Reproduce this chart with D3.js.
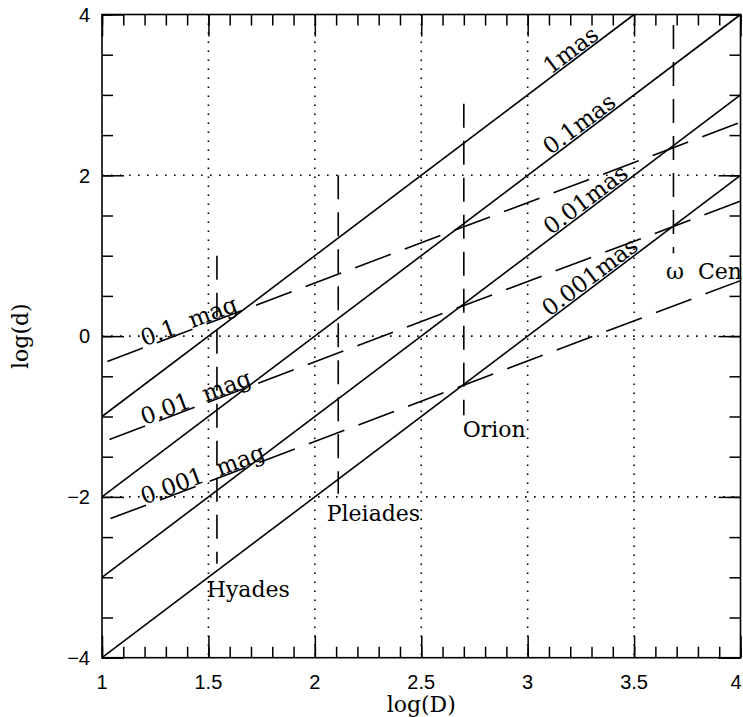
<!DOCTYPE html>
<html><head><meta charset="utf-8">
<script src="https://cdn.jsdelivr.net/npm/d3@7"></script>
<style>body{margin:0;background:#fff}</style>
</head><body><svg id="c" width="743" height="717"></svg>
<script>
const xDomain=[1,4], yDomain=[-4,4];
const xMajorTicks=[1,1.5,2,2.5,3,3.5,4];
const xTickLabels=["1","1.5","2","2.5","3","3.5","4"];
const yMajorTicks=[-4,-2,0,2,4];
const yTickLabels=["\u22124","\u22122","0","2","4"];
const xGrid=[1.5,2,2.5,3,3.5];
const yGrid=[-2,0,2];
const parallaxNames=["1mas","0.1mas","0.01mas","0.001mas"];
const parallaxOffset=[-3,-4,-5,-6];
const parallaxSlope=2;
const parallaxLabelX=[3.23,3.27,3.30,3.32];
const magNames=["0.1  mag","0.01  mag","0.001  mag"];
const magOffset=[-1.34,-2.32,-3.31];
const magSlope=1;
const magStartX=[1.025,1.035,1.04];
const magLabelX=[1.20,1.20,1.20];
const clusterNames=["Hyades","Pleiades","Orion","\u03c9  Cen"];
const clusterX=[1.54,2.11,2.70,3.685];
const clusterTop=[1.0,2.0,2.89,3.87];
const clusterBottom=[-2.83,-1.96,-0.985,1.03];
const clusterLabelX=[1.492,2.056,2.695,3.65];
const clusterLabelY=[-3.24,-2.30,-1.255,0.715];

const L=102,R=740.5,T=14.5,B=657.7,W=743;
const x=d3.scaleLinear().domain(xDomain).range([L,R]);
const y=d3.scaleLinear().domain(yDomain).range([B,T]);
const svg=d3.select("#c");
const serif="'DejaVu Serif', serif";
const sans="'Liberation Sans', Arial, sans-serif";

// grid
svg.append("g").selectAll("line").data(xGrid).join("line")
  .attr("x1",d=>x(d)).attr("x2",d=>x(d)).attr("y1",y(4)).attr("y2",y(-4))
  .attr("stroke","#000").attr("stroke-width",1.6).attr("stroke-dasharray","1.6,7.4");
svg.append("g").selectAll("line").data(yGrid).join("line")
  .attr("y1",d=>y(d)).attr("y2",d=>y(d)).attr("x1",x(1)).attr("x2",x(4))
  .attr("stroke","#000").attr("stroke-width",1.6).attr("stroke-dasharray","1.6,7.4");

// axes with inward ticks
function styleAxis(g){g.selectAll("path").remove();g.selectAll("line").attr("stroke","#000").attr("stroke-width",1.5);g.selectAll("text").remove();}
const xMinor=x.ticks(30), yMinor=y.ticks(16);
svg.append("g").attr("transform",`translate(0,${B})`).call(d3.axisBottom(x).tickValues(xMinor).tickSize(-11)).call(styleAxis);
svg.append("g").attr("transform",`translate(0,${B})`).call(d3.axisBottom(x).tickValues(xMajorTicks).tickSize(-22)).call(styleAxis);
svg.append("g").attr("transform",`translate(0,${T})`).call(d3.axisTop(x).tickValues(xMinor).tickSize(-11)).call(styleAxis);
svg.append("g").attr("transform",`translate(0,${T})`).call(d3.axisTop(x).tickValues(xMajorTicks).tickSize(-22)).call(styleAxis);
svg.append("g").attr("transform",`translate(${L},0)`).call(d3.axisLeft(y).tickValues(yMinor).tickSize(-11)).call(styleAxis);
svg.append("g").attr("transform",`translate(${L},0)`).call(d3.axisLeft(y).tickValues(yMajorTicks).tickSize(-22)).call(styleAxis);
svg.append("g").attr("transform",`translate(${R},0)`).call(d3.axisRight(y).tickValues(yMinor).tickSize(-11)).call(styleAxis);
svg.append("g").attr("transform",`translate(${R},0)`).call(d3.axisRight(y).tickValues(yMajorTicks).tickSize(-22)).call(styleAxis);
svg.append("rect").attr("x",L).attr("y",T).attr("width",R-L).attr("height",B-T)
  .attr("fill","none").attr("stroke","#000").attr("stroke-width",1.6);

// tick labels
svg.append("g").selectAll("text").data(xMajorTicks).join("text")
  .attr("x",d=>Math.min(x(d),W-7)).attr("y",689).attr("text-anchor","middle")
  .attr("font-family",sans).attr("font-size",20).text((d,i)=>xTickLabels[i]);
svg.append("g").selectAll("text").data(yMajorTicks).join("text")
  .attr("x",90).attr("y",d=>y(d)).attr("dy","0.36em").attr("text-anchor","end")
  .attr("font-family",sans).attr("font-size",20).text((d,i)=>yTickLabels[i]);

// axis titles
svg.append("text").attr("x",(L+R)/2).attr("y",712).attr("text-anchor","middle")
  .attr("font-family",serif).attr("font-size",22).text("log(D)");
svg.append("text").attr("transform",`translate(28,${y(0)}) rotate(-90)`).attr("text-anchor","middle")
  .attr("font-family",serif).attr("font-size",22).text("log(d)");

// parallax lines (solid)
const pxAngle=(s)=>Math.atan2(y(0)-y(s),x(2)-x(1))*180/Math.PI;
parallaxOffset.forEach((c,i)=>{
  const x0=Math.max(1,(-4-c)/parallaxSlope), x1=Math.min(4,(4-c)/parallaxSlope);
  svg.append("line").attr("x1",x(x0)).attr("y1",y(parallaxSlope*x0+c))
    .attr("x2",x(x1)).attr("y2",y(parallaxSlope*x1+c))
    .attr("stroke","#000").attr("stroke-width",1.6);
  const lx=parallaxLabelX[i];
  svg.append("text").attr("transform",`translate(${x(lx)},${y(parallaxSlope*lx+c)}) rotate(${-pxAngle(parallaxSlope)})`)
    .attr("dy",-2).attr("text-anchor","middle").attr("font-family",serif).attr("font-size",23)
    .text(parallaxNames[i]);
});

// magnitude lines (dashed)
magOffset.forEach((c,i)=>{
  const x0=magStartX[i], x1=Math.min(4,(4-c)/magSlope);
  svg.append("line").attr("x1",x(x0)).attr("y1",y(magSlope*x0+c))
    .attr("x2",x(x1)).attr("y2",y(magSlope*x1+c))
    .attr("stroke","#000").attr("stroke-width",1.6).attr("stroke-dasharray","38,15");
  const lx=magLabelX[i];
  svg.append("text").attr("transform",`translate(${x(lx)},${y(magSlope*lx+c)}) rotate(${-pxAngle(magSlope)})`)
    .attr("dy",-1).attr("text-anchor","start").attr("font-family",serif).attr("font-size",23)
    .style("white-space","pre").text(magNames[i]);
});

// clusters (vertical dashed)
clusterX.forEach((cx,i)=>{
  svg.append("line").attr("x1",x(cx)).attr("x2",x(cx)).attr("y1",y(clusterTop[i])).attr("y2",y(clusterBottom[i]))
    .attr("stroke","#000").attr("stroke-width",1.6).attr("stroke-dasharray","24,13");
  svg.append("text").attr("x",x(clusterLabelX[i])).attr("y",y(clusterLabelY[i]))
    .attr("font-family",serif).attr("font-size",22).style("white-space","pre").text(clusterNames[i]);
});
</script></body></html>
